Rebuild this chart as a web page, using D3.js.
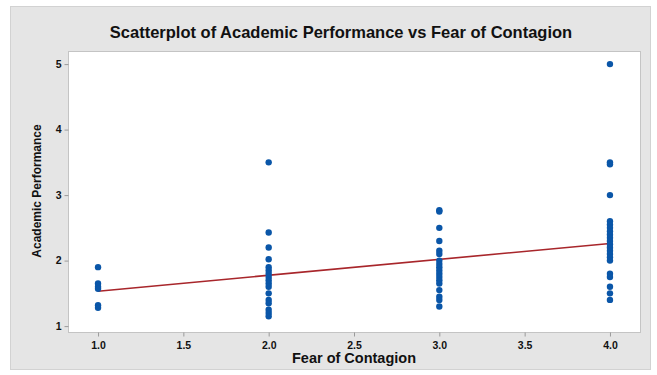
<!DOCTYPE html>
<html>
<head>
<meta charset="utf-8">
<script src="https://cdn.jsdelivr.net/npm/d3@7"></script>
<style>
  body { margin: 0; background: #fff; }
  text { font-family: "Liberation Sans", Arial, sans-serif; }
</style>
</head>
<body>
<div id="chart"></div>
<script>
// fear of contagion levels and academic performance scores
var fearLevels = [1, 2, 3, 4];
var perf1 = [1.9, 1.65, 1.6, 1.57, 1.32, 1.28];
var perf2 = [3.5, 2.43, 2.2, 2.02, 1.9, 1.85, 1.8, 1.75, 1.7, 1.65, 1.6, 1.5, 1.4, 1.35, 1.25, 1.2, 1.15];
var perf3 = [2.77, 2.75, 2.5, 2.3, 2.15, 2.1, 2.0, 1.95, 1.9, 1.85, 1.8, 1.75, 1.7, 1.65, 1.55, 1.45, 1.4, 1.3];
var perf4 = [5.0, 3.5, 3.47, 3.0, 2.6, 2.55, 2.5, 2.45, 2.4, 2.35, 2.3, 2.25, 2.2, 2.15, 2.1, 2.05, 2.0, 1.8, 1.75, 1.6, 1.5, 1.4];
var xTicks = [1.0, 1.5, 2.0, 2.5, 3.0, 3.5, 4.0];
var yTicks = [1, 2, 3, 4, 5];
// fitted line
var fitIntercept = 1.29;
var fitSlope = 0.243;

function init(){
    var w = 657, h = 375;
    var left = 68, right = 640, top = 51, bottom = 332;

    var points = [];
    [perf1, perf2, perf3, perf4].forEach(function(arr, i){
        arr.forEach(function(v){ points.push({x: fearLevels[i], y: v}); });
    });

    var xScale = d3.scaleLinear().domain([0.824, 4.176]).range([left, right]);
    var yScale = d3.scaleLinear().domain([0.91, 5.2]).range([bottom, top]);

    var svg = d3.select('#chart').append('svg')
        .attr('width', w).attr('height', h);

    // gray panel
    svg.append('rect')
        .attr('x', 10.5).attr('y', 6.5)
        .attr('width', 640).attr('height', 363)
        .attr('fill', '#e5e5e5').attr('stroke', '#d2d2d2');

    // plot area
    svg.append('rect')
        .attr('x', left + 0.5).attr('y', top + 0.5)
        .attr('width', right - left).attr('height', bottom - top)
        .attr('fill', '#fff').attr('stroke', '#c4c4c4');

    var xAxis = d3.axisBottom(xScale).tickValues(xTicks)
        .tickFormat(d3.format('.1f')).tickSize(4).tickSizeOuter(0);
    var yAxis = d3.axisLeft(yScale).tickValues(yTicks)
        .tickFormat(d3.format('d')).tickSize(4).tickSizeOuter(0);

    var gx = svg.append('g').attr('transform', 'translate(0,' + (bottom + 0.5) + ')').call(xAxis);
    var gy = svg.append('g').attr('transform', 'translate(' + (left + 0.5) + ',0)').call(yAxis);

    [gx, gy].forEach(function(g){
        g.select('.domain').remove();
        g.selectAll('line').attr('stroke', '#9a9a9a');
        g.selectAll('text')
            .attr('fill', '#111')
            .style('font-size', '10.5px')
            .style('font-weight', 'bold');
    });
    gx.selectAll('text').attr('dy', '0.95em');
    gy.selectAll('text').attr('x', -7);

    // fitted line
    svg.append('line')
        .attr('x1', xScale(1)).attr('y1', yScale(fitIntercept + fitSlope * 1))
        .attr('x2', xScale(4)).attr('y2', yScale(fitIntercept + fitSlope * 4))
        .attr('stroke', '#a8262b').attr('stroke-width', 1.6);

    svg.selectAll('circle.pt')
        .data(points)
        .enter()
        .append('circle')
        .attr('class', 'pt')
        .attr('cx', function(d){ return xScale(d.x); })
        .attr('cy', function(d){ return yScale(d.y); })
        .attr('r', 3.2)
        .attr('fill', '#0a56a8');

    // title
    svg.append('text')
        .attr('x', 341).attr('y', 38)
        .attr('text-anchor', 'middle')
        .style('font-size', '16.5px').style('font-weight', 'bold')
        .attr('fill', '#111')
        .text('Scatterplot of Academic Performance vs Fear of Contagion');

    svg.append('text')
        .attr('x', 354).attr('y', 363)
        .attr('text-anchor', 'middle')
        .style('font-size', '14.5px').style('font-weight', 'bold')
        .attr('fill', '#111')
        .text('Fear of Contagion');

    svg.append('text')
        .attr('transform', 'translate(41,191) rotate(-90)')
        .attr('text-anchor', 'middle')
        .style('font-size', '12px').style('font-weight', 'bold')
        .attr('fill', '#111')
        .text('Academic Performance');
}

window.onload = init;
</script>
</body>
</html>
